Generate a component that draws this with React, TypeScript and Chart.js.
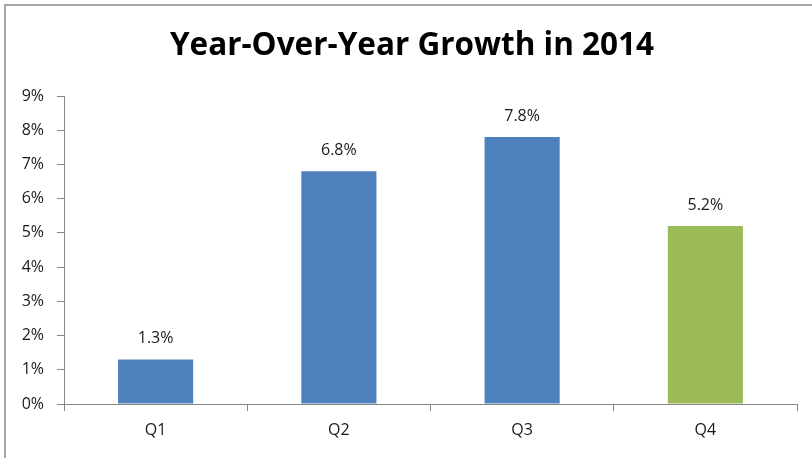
import React, { useEffect, useRef } from "react";
import { Chart, registerables } from "chart.js";

Chart.register(...registerables);

const categories = ["Q1", "Q2", "Q3", "Q4"];
const growth = [1.3, 6.8, 7.8, 5.2];
const barColors = ["#4F81BD", "#4F81BD", "#4F81BD", "#9BBB59"];
const yTicks = [0, 1, 2, 3, 4, 5, 6, 7, 8, 9];
const titleText = "Year-Over-Year Growth in 2014";

const FONT = "'Open Sans', sans-serif";

export default function App() {
  const ref = useRef<HTMLCanvasElement | null>(null);

  useEffect(() => {
    if (!ref.current) return;
    const frame = {
      id: "frame",
      beforeDraw(chart: any) {
        const ctx = chart.ctx;
        ctx.save();
        ctx.fillStyle = "#ffffff";
        ctx.fillRect(0, 0, chart.width, chart.height);
        ctx.strokeStyle = "#a6a6a6";
        ctx.lineWidth = 2;
        ctx.beginPath();
        ctx.moveTo(5, chart.height);
        ctx.lineTo(5, 5);
        ctx.lineTo(chart.width, 5);
        ctx.stroke();
        ctx.restore();
      },
      afterDraw(chart: any) {
        const ctx = chart.ctx;
        ctx.save();
        ctx.font = "bold 31.5px " + FONT;
        ctx.fillStyle = "#000000";
        ctx.textAlign = "center";
        ctx.textBaseline = "middle";
        ctx.fillText(titleText, 412, 46);
        ctx.restore();
      },
    };
    const labels = {
      id: "valueLabels",
      afterDatasetsDraw(chart: any) {
        const ctx = chart.ctx;
        const meta = chart.getDatasetMeta(0);
        ctx.save();
        ctx.font = "16px " + FONT;
        ctx.fillStyle = "#1a1a1a";
        ctx.textAlign = "center";
        ctx.textBaseline = "middle";
        meta.data.forEach((bar: any, i: number) => {
          ctx.fillText(growth[i].toFixed(1) + "%", bar.x, bar.y - 21);
        });
        ctx.restore();
      },
    };
    const chart = new Chart(ref.current, {
      type: "bar",
      data: {
        labels: categories,
        datasets: [
          {
            data: growth,
            backgroundColor: barColors,
            barPercentage: 0.41,
            categoryPercentage: 1,
          },
        ],
      },
      options: {
        animation: false,
        responsive: false,
        maintainAspectRatio: false,
        layout: { padding: { left: 10, right: 15, top: 96, bottom: 0 } },
        plugins: {
          legend: { display: false },
          tooltip: { enabled: false },
          title: { display: false },
        },
        scales: {
          x: {
            grid: {
              offset: true,
              drawOnChartArea: false,
              drawTicks: true,
              tickLength: 7,
              color: "#868686",
            },
            border: { color: "#868686", width: 1 },
            ticks: {
              color: "#1a1a1a",
              font: { family: FONT, size: 16 },
              padding: 10,
            },
            afterFit(scale: any) {
              scale.height = 54;
            },
          },
          y: {
            min: 0,
            max: 9,
            afterBuildTicks(scale: any) {
              scale.ticks = yTicks.map((v) => ({ value: v }));
            },
            grid: {
              drawOnChartArea: false,
              drawTicks: true,
              tickLength: 7,
              color: "#868686",
            },
            border: { color: "#868686", width: 1 },
            ticks: {
              color: "#1a1a1a",
              font: { family: FONT, size: 16 },
              padding: 13,
              callback: (v: any) => v + "%",
            },
            afterFit(scale: any) {
              scale.width = 54;
            },
          },
        },
      },
      plugins: [frame, labels],
    });
    return () => chart.destroy();
  }, []);

  return (
    <div style={{ position: "fixed", left: 0, top: 0, width: 812, height: 458, background: "#fff" }}>
      <canvas ref={ref} width={812} height={458} style={{ display: "block" }} />
    </div>
  );
}
